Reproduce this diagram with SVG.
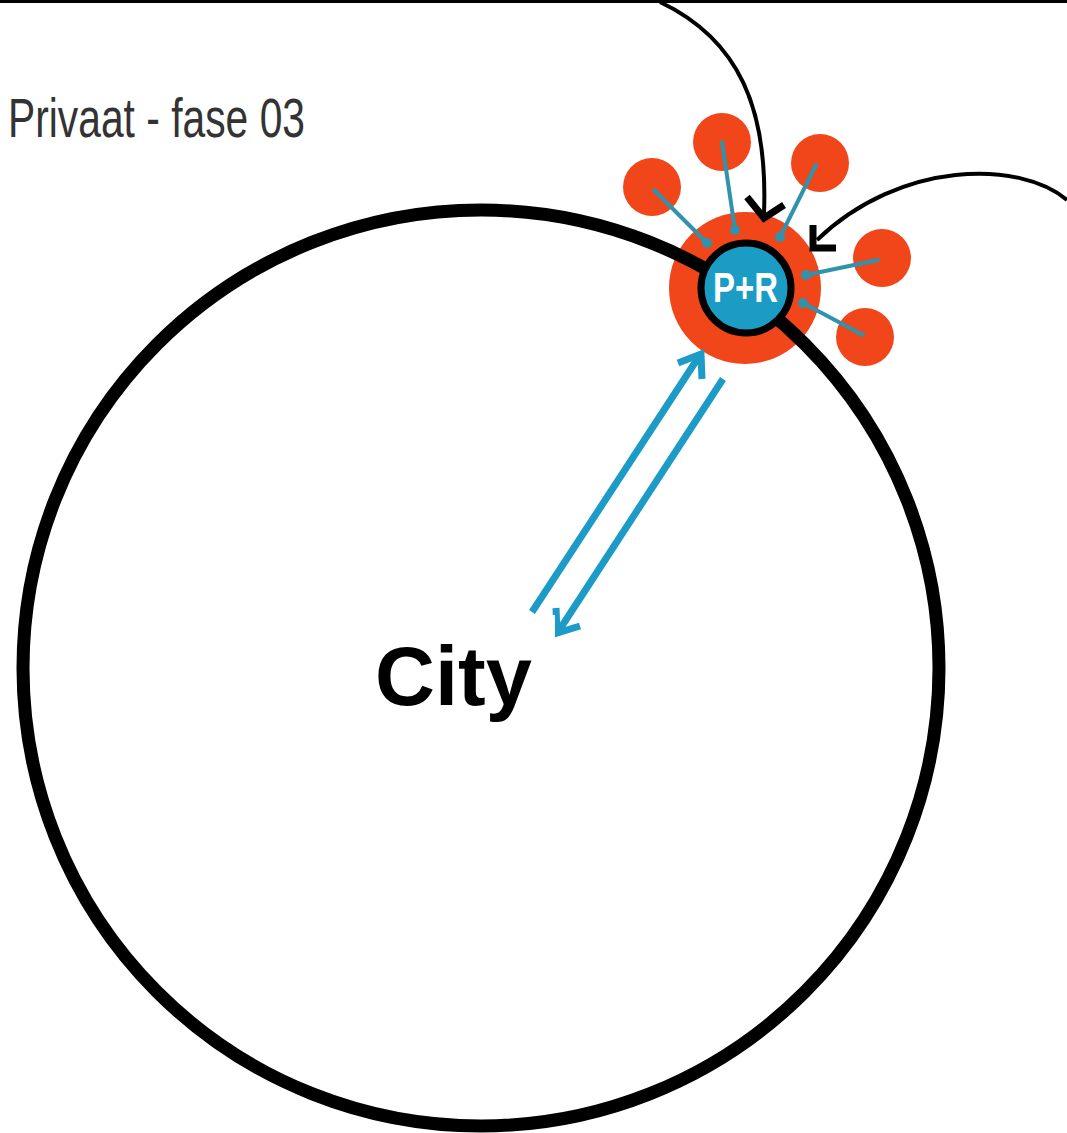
<svg xmlns="http://www.w3.org/2000/svg" width="1067" height="1133" viewBox="0 0 1067 1133">
  <style>
    .title { font-family: "Liberation Sans", Arial, sans-serif; font-size: 55px; fill: #333333; }
    .city { font-family: "Liberation Sans", Arial, sans-serif; font-size: 83px; font-weight: bold; fill: #000000; }
    .pr { font-family: "Liberation Sans", Arial, sans-serif; font-size: 42px; font-weight: bold; fill: #ffffff; }
    .orange { fill: #f0461a; }
    .blackArrow { fill: none; stroke: #000000; stroke-width: 4; }
    .blackHead { fill: none; stroke: #000000; stroke-width: 7; stroke-linecap: butt; stroke-linejoin: miter; }
    .blueLine { fill: none; stroke: #1b9bc6; stroke-width: 7; }
    .blueHead { fill: none; stroke: #1b9bc6; stroke-width: 7; stroke-linejoin: miter; }
    .spoke { fill: none; stroke: #2f93ad; stroke-width: 4; stroke-linecap: round; }
    .spokeDot { fill: #2f93ad; }
  </style>
  <rect x="0" y="0" width="1067" height="1133" fill="#ffffff"/>
  <rect x="0" y="0" width="1067" height="3" fill="#000000"/>

  <g id="title">
    <text class="title" x="8" y="137" textLength="297" lengthAdjust="spacingAndGlyphs">Privaat - fase 03</text>
  </g>

  <g id="pr-ring">
    <circle class="orange" cx="745" cy="288" r="76"/>
  </g>

  <g id="satellites">
    <circle id="sat1" class="orange" cx="652" cy="187" r="29"/>
    <circle id="sat2" class="orange" cx="722" cy="142" r="29"/>
    <circle id="sat3" class="orange" cx="820" cy="163" r="29"/>
    <circle id="sat4" class="orange" cx="882" cy="258" r="29"/>
    <circle id="sat5" class="orange" cx="865" cy="337" r="29"/>
  </g>

  <g id="city">
    <circle cx="481" cy="668" r="458" fill="none" stroke="#000000" stroke-width="13"/>
  </g>

  <g id="connectors">
    <!-- spokes from satellites to P+R -->
    <line class="spoke" x1="654" y1="190" x2="707" y2="243"/>
    <circle class="spokeDot" cx="707" cy="243" r="5"/>
    <line class="spoke" x1="722" y1="142" x2="735" y2="230"/>
    <circle class="spokeDot" cx="735" cy="230" r="5"/>
    <line class="spoke" x1="816" y1="165" x2="780" y2="237"/>
    <circle class="spokeDot" cx="780" cy="237" r="5"/>
    <line class="spoke" x1="878" y1="260" x2="806" y2="275"/>
    <circle class="spokeDot" cx="806" cy="275" r="5"/>
    <line class="spoke" x1="863" y1="335" x2="803" y2="303"/>
    <circle class="spokeDot" cx="803" cy="303" r="5"/>

    <!-- black incoming arrows -->
    <path class="blackArrow" d="M 660 2 C 740 40 768 110 764 213"/>
    <path class="blackHead" d="M 747 197 L 764 218 L 784 205"/>
    <path class="blackArrow" d="M 1067 200 C 1020 160 900 160 817 240"/>
    <path class="blackHead" d="M 813 225 L 813 248 L 836 248"/>

    <!-- blue arrows city <-> P+R -->
    <line class="blueLine" x1="532" y1="612" x2="698" y2="358"/>
    <path class="blueHead" d="M 678 363 L 701 354 L 702 379"/>
    <line class="blueLine" x1="723" y1="379" x2="560" y2="629"/>
    <path class="blueHead" d="M 556 608 L 557 633 L 580 626"/>
    <rect x="525" y="615" width="30" height="40" fill="#ffffff"/>
  </g>

  <g id="pr-node">
    <circle cx="746" cy="288" r="45" fill="#1a9cc5" stroke="#000000" stroke-width="7"/>
    <text class="pr" x="713" y="302" textLength="65" lengthAdjust="spacingAndGlyphs">P+R</text>
  </g>

  <g id="city-label">
    <text class="city" x="375" y="705">City</text>
  </g>
</svg>
